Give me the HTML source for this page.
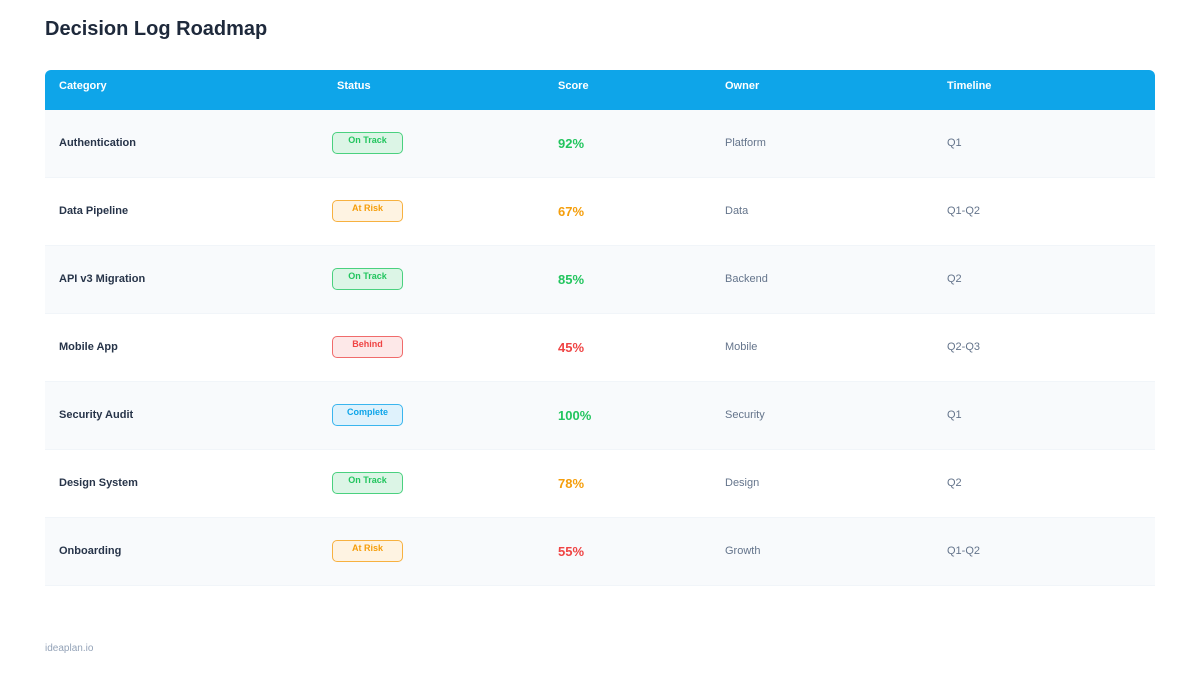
<!DOCTYPE html><html><head><style>
body{margin:0;width:1200px;height:675px;background:#fff;font-family:"Liberation Sans",Arial,sans-serif;position:relative;overflow:hidden}
.a{position:absolute;white-space:nowrap}
h1{position:absolute;left:45px;top:18px;margin:0;font-size:20px;font-weight:700;color:#1e293b}
.hd{position:absolute;left:45px;top:70px;width:1110px;height:40px;background:#0ea5e9;border-radius:6px 6px 0 0}
.ht{color:#fff;font-size:11px;font-weight:700;top:80px}
.row{position:absolute;left:45px;width:1110px;height:67px;border-bottom:1px solid #f1f5f9}
.c{font-size:11px;font-weight:700;color:#273449}
.o{font-size:11px;color:#64748b}
.s{font-size:13px;font-weight:700}
.b{position:absolute;left:332px;width:69px;height:20px;border:1px solid;border-radius:5px;font-size:9px;font-weight:700;text-align:center;line-height:14px;box-sizing:content-box}
</style></head><body>
<h1>Decision Log Roadmap</h1>
<div class="hd"></div>
<div class="a ht" style="left:59px">Category</div>
<div class="a ht" style="left:337px">Status</div>
<div class="a ht" style="left:558px">Score</div>
<div class="a ht" style="left:725px">Owner</div>
<div class="a ht" style="left:947px">Timeline</div>
<div id="r"></div>
<script>
var d=[["Authentication","On Track","92%","Platform","Q1"],["Data Pipeline","At Risk","67%","Data","Q1-Q2"],["API v3 Migration","On Track","85%","Backend","Q2"],["Mobile App","Behind","45%","Mobile","Q2-Q3"],["Security Audit","Complete","100%","Security","Q1"],["Design System","On Track","78%","Design","Q2"],["Onboarding","At Risk","55%","Growth","Q1-Q2"]];
var st={"On Track":["#4ad17f","#dcf5e6","#22c55e"],"At Risk":["#f7b140","#fef3e2","#f59e0b"],"Behind":["#f06b6b","#fde8e8","#ef4444"],"Complete":["#3ab5ee","#dff2fc","#0ea5e9"]};
var sc=["#22c55e","#f59e0b","#22c55e","#ef4444","#22c55e","#f59e0b","#ef4444"];
var h="";d.forEach(function(r,i){var y=110+i*68;var s=st[r[1]];
h+='<div class="row" style="top:'+y+'px;background:'+(i%2?'#fff':'#f8fafc')+'"></div>';
h+='<div class="a c" style="left:59px;top:'+(y+27)+'px">'+r[0]+'</div>';
h+='<div class="b" style="top:'+(y+22)+'px;border-color:'+s[0]+';background:'+s[1]+';color:'+s[2]+'">'+r[1]+'</div>';
h+='<div class="a s" style="left:558px;top:'+(y+26)+'px;color:'+sc[i]+'">'+r[2]+'</div>';
h+='<div class="a o" style="left:725px;top:'+(y+27)+'px">'+r[3]+'</div>';
h+='<div class="a o" style="left:947px;top:'+(y+27)+'px">'+r[4]+'</div>';});
document.getElementById("r").innerHTML=h;
</script>
<div class="a" style="left:45px;top:643px;font-size:10px;color:#94a3b8">ideaplan.io</div>
</body></html>
